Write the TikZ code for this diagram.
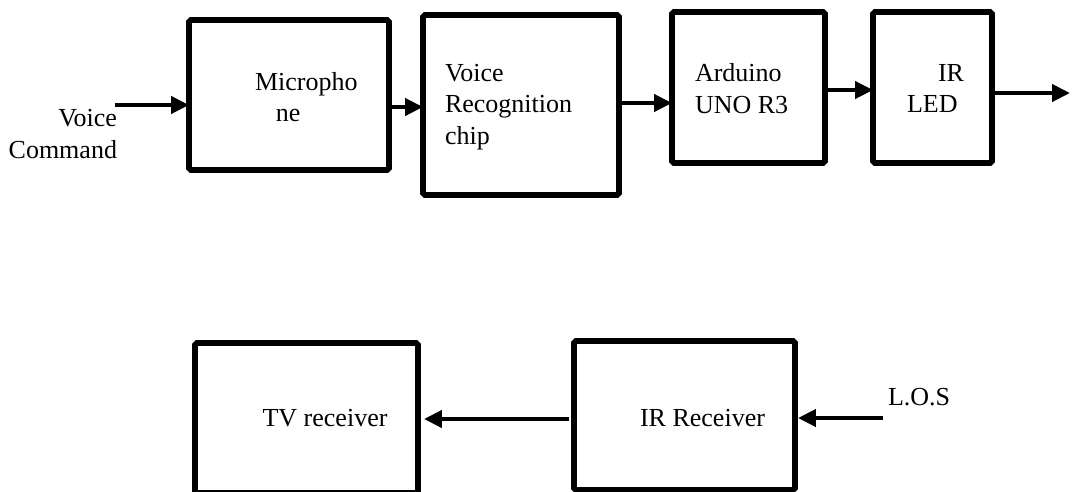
\documentclass[tikz,border=0pt]{standalone}
\usepackage{fontspec}
\setmainfont{Liberation Serif}
\usepackage{tikz}
\usetikzlibrary{arrows.meta, calc}

\tikzset{
   block/.style={draw, line width=3.2pt, rounded corners=1pt, inner sep=0,
      outer sep=0},
   flow/.style={line width=2.4pt, -{Triangle[length=3.6mm, width=3.4mm]}},
   caption/.style={inner sep=0, outer sep=0,
      font=\fontsize{14.8}{17.9}\selectfont},
}

\begin{document}
\begin{tikzpicture}[x=0.02cm, y=-0.02cm]
   \useasboundingbox (0,0) rectangle (1072,491);
   \clip (0,0) rectangle (1072,491);

   % sending side
   \node[block, minimum width=4cm, minimum height=3cm] (mic) at (289,95) {};
   \node[block, minimum width=3.92cm, minimum height=3.6cm] (vrc) at (521,105) {};
   \node[block, minimum width=3.06cm, minimum height=3.02cm] (uno) at (748.5,87.5) {};
   \node[block, minimum width=2.38cm, minimum height=3.02cm] (led) at (932.5,87.5) {};

   \node[caption, align=right, anchor=east] (cmdT) at (117,134) {Voice\\Command};
   \node[caption, align=left, anchor=west] (micT) at (255,97)
   {Micropho\\\hspace*{0.42cm}ne};
   \node[caption, align=left, anchor=west] (vrcT) at (445,107)
   {Voice\\Recognition\\chip};
   \node[caption, align=left, anchor=west] (unoT) at (695,88.5) {Arduino\\UNO R3};
   \node[caption, align=left, anchor=west] (ledT) at (907,88.5)
   {\hspace*{0.62cm}IR\\LED};

   \coordinate (cmdIn) at (115,105);
   \coordinate (ledOut) at (1070,93);

   \draw[flow] (cmdIn) -- (cmdIn -| mic.west);
   \draw[flow] (mic.east |- 0,107) -- (vrc.west |- 0,107);
   \draw[flow] (vrc.east |- 0,103) -- (uno.west |- 0,103);
   \draw[flow] (uno.east |- 0,90) -- (led.west |- 0,90);
   \draw[flow] (led.east |- ledOut) -- (ledOut);

   % receiving side
   \node[block, minimum width=4.46cm, minimum height=3cm] (tv) at (306.5,418) {};
   \node[block, minimum width=4.42cm, minimum height=2.98cm] (irr) at (684.5,415.5) {};

   \node[caption] (tvT) at (325,418) {TV receiver};
   \node[caption] (irrT) at (702.5,418) {IR Receiver};
   \node[caption, anchor=west] (losT) at (888,397) {L.O.S};

   \coordinate (losIn) at (883,418);

   \draw[flow, shorten >=0.06cm] (losIn) -- (irr.east |- losIn);
   \draw[flow, shorten <=0.1cm, shorten >=0.12cm] (irr.west |- 0,419)
   -- (tv.east |- 0,419);
\end{tikzpicture}
\end{document}
